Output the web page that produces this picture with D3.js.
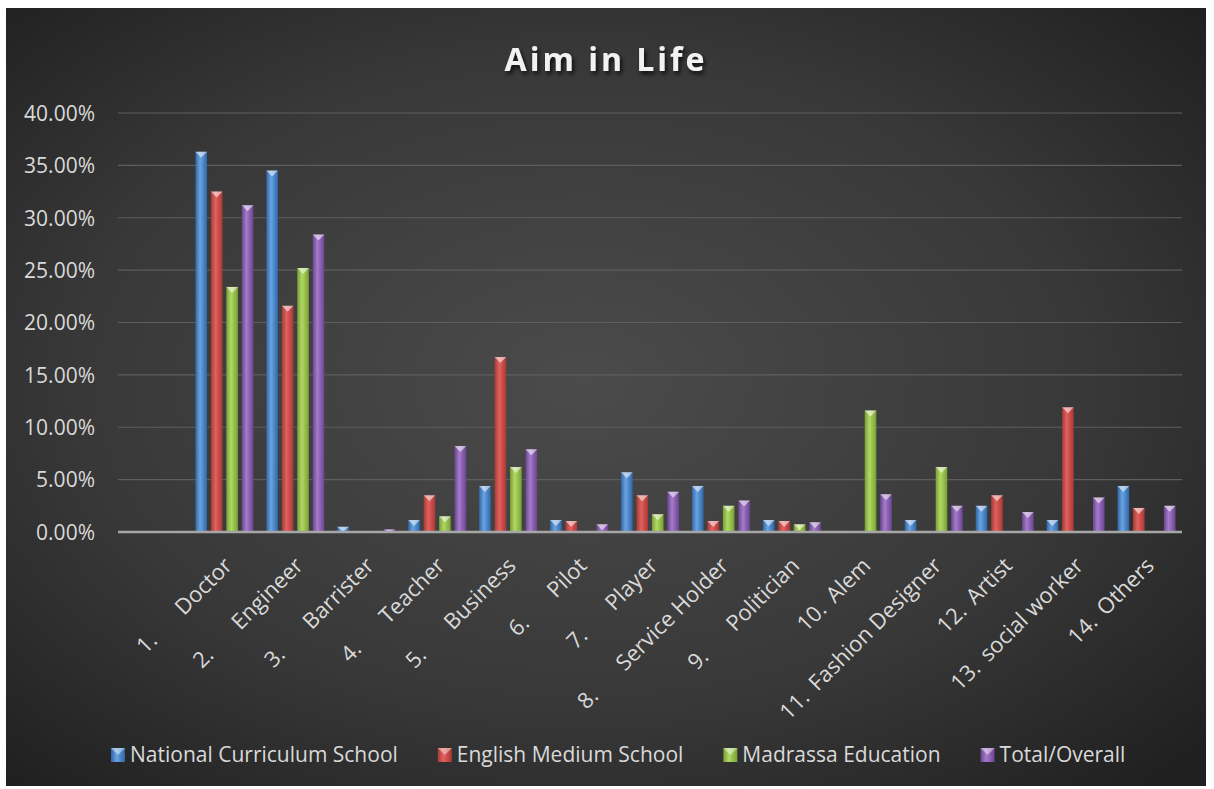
<!DOCTYPE html>
<html>
<head>
<meta charset="utf-8">
<script src="https://cdn.jsdelivr.net/npm/d3@7/dist/d3.min.js"></script>
<style>
  html, body { margin: 0; padding: 0; background: #ffffff; }
  svg { display: block; }
</style>
</head>
<body>
<svg id="chart" width="1214" height="789"></svg>
<script>
const title = "Aim in Life";
const categories = [
  "1.\tDoctor", "2.\tEngineer", "3.\tBarrister", "4.\tTeacher", "5.\tBusiness",
  "6.\tPilot", "7.\tPlayer", "8.\tService Holder", "9.\tPolitician", "10.\tAlem",
  "11.\tFashion Designer", "12.\tArtist", "13.\tsocial worker", "14.\tOthers"
];
const seriesNames = ["National Curriculum School", "English Medium School", "Madrassa Education", "Total/Overall"];
const nationalCurriculum = [36.3, 34.5, 0.5, 1.15, 4.4, 1.15, 5.7, 4.4, 1.15, 0, 1.15, 2.5, 1.15, 4.4];
const englishMedium      = [32.5, 21.6, 0, 3.5, 16.7, 1.05, 3.5, 1.05, 1.05, 0, 0, 3.5, 11.9, 2.3];
const madrassa           = [23.4, 25.2, 0, 1.5, 6.2, 0, 1.7, 2.5, 0.73, 11.6, 6.2, 0, 0, 0];
const totalOverall       = [31.2, 28.4, 0.25, 8.2, 7.9, 0.73, 3.85, 3.0, 0.93, 3.6, 2.5, 1.9, 3.3, 2.5];
const yTicks = [0, 0.05, 0.10, 0.15, 0.20, 0.25, 0.30, 0.35, 0.40];
const seriesColors = [
  { dark: "#3266a6", mid: "#4a86c8", light: "#6aa3e0" },
  { dark: "#a63a37", mid: "#c94a47", light: "#e0625f" },
  { dark: "#7a9e36", mid: "#94bf4a", light: "#b0d865" },
  { dark: "#6a4690", mid: "#8a5db0", light: "#a47cc8" }
];

const seriesValues = [nationalCurriculum, englishMedium, madrassa, totalOverall];

const svg = d3.select("#chart");
const chart = { x: 6, y: 8, w: 1200, h: 778 };
const plot = { left: 118, right: 1182, top: 113, bottom: 532 };
const FONT = "'Open Sans', sans-serif";

const defs = svg.append("defs");
const bg = defs.append("radialGradient").attr("id", "bgGrad")
  .attr("cx", "48%").attr("cy", "48%").attr("r", "70%");
bg.append("stop").attr("offset", "0%").attr("stop-color", "#4b4b4b");
bg.append("stop").attr("offset", "60%").attr("stop-color", "#383838");
bg.append("stop").attr("offset", "100%").attr("stop-color", "#202020");

seriesColors.forEach((c, i) => {
  const g = defs.append("linearGradient").attr("id", "barGrad" + i)
    .attr("x1", "0%").attr("x2", "100%").attr("y1", "0%").attr("y2", "0%");
  g.append("stop").attr("offset", "0%").attr("stop-color", c.dark);
  g.append("stop").attr("offset", "40%").attr("stop-color", c.light);
  g.append("stop").attr("offset", "70%").attr("stop-color", c.mid);
  g.append("stop").attr("offset", "100%").attr("stop-color", c.dark);
});

const shadow = defs.append("filter").attr("id", "titleShadow")
  .attr("x", "-20%").attr("y", "-40%").attr("width", "140%").attr("height", "180%");
shadow.append("feDropShadow").attr("dx", 2).attr("dy", 3).attr("stdDeviation", 2)
  .attr("flood-color", "#000").attr("flood-opacity", 0.75);

svg.append("rect").attr("x", chart.x).attr("y", chart.y)
  .attr("width", chart.w).attr("height", chart.h).attr("fill", "url(#bgGrad)");

// Title
svg.append("text")
  .attr("x", chart.x + chart.w / 2).attr("y", 71)
  .attr("text-anchor", "middle")
  .attr("font-family", FONT)
  .attr("font-weight", "bold").attr("font-size", 32)
  .attr("letter-spacing", 3)
  .attr("fill", "#f2f2f2")
  .attr("filter", "url(#titleShadow)")
  .text(title);

const y = d3.scaleLinear().domain([0, 0.40]).range([plot.bottom, plot.top]);
const step = (plot.right - plot.left) / (categories.length + 1);
const x = d3.scaleBand().domain(categories)
  .range([plot.left + step, plot.right]).paddingInner(0.183).paddingOuter(0.0915);
const xs = d3.scaleBand().domain(d3.range(seriesNames.length))
  .range([0, x.bandwidth()]).paddingInner(0.25);

// gridlines
svg.append("g").selectAll("line").data(yTicks.slice(1)).join("line")
  .attr("x1", plot.left).attr("x2", plot.right)
  .attr("y1", d => y(d)).attr("y2", d => y(d))
  .attr("stroke", "#5e5e5e").attr("stroke-width", 1.2);

// y axis labels
const yAxis = d3.axisLeft(y).tickValues(yTicks).tickFormat(d3.format(".2%")).tickSize(0).tickPadding(0);
const yg = svg.append("g").attr("transform", `translate(95,0)`).call(yAxis);
yg.select(".domain").remove();
yg.selectAll("text")
  .attr("font-family", FONT).attr("font-size", 21)
  .attr("fill", "#d9d9d9").attr("dy", "0.35em");

// bars
const barG = svg.append("g");
categories.forEach((cat, ci) => {
  seriesValues.forEach((vals, si) => {
    const v = vals[ci] / 100;
    if (v <= 0) return;
    const bx = x(cat) + xs(si);
    const bw = xs.bandwidth();
    const by = y(v);
    const bh = plot.bottom - by;
    barG.append("rect").attr("x", bx).attr("y", by).attr("width", bw).attr("height", bh)
      .attr("fill", `url(#barGrad${si})`);
    const capH = Math.min(6, bh);
    barG.append("path")
      .attr("d", `M${bx},${by} L${bx + bw},${by} L${bx + bw / 2},${by + capH} Z`)
      .attr("fill", "#ffffff").attr("fill-opacity", 0.55);
  });
});

// x axis line
svg.append("line").attr("x1", plot.left).attr("x2", plot.right)
  .attr("y1", plot.bottom).attr("y2", plot.bottom)
  .attr("stroke", "#a6a6a6").attr("stroke-width", 2.5);

// category labels
categories.forEach(cat => {
  const [num, name] = cat.split("\t");
  const gap = num.length <= 2 ? 36 : 10;
  const cx = x(cat) + x.bandwidth() / 2;
  const g = svg.append("g").attr("transform", `translate(${cx + 9},${567}) rotate(-45)`);
  const t = g.append("text").attr("x", 0).attr("y", 0).attr("text-anchor", "end")
    .attr("font-family", FONT).attr("font-size", 22)
    .attr("fill", "#d9d9d9").text(name);
  const len = t.node().getComputedTextLength();
  g.append("text").attr("x", -(len + gap)).attr("y", 0).attr("text-anchor", "end")
    .attr("font-family", FONT).attr("font-size", 22)
    .attr("fill", "#d9d9d9").text(num);
});

// legend
let lx = 111;
const ly = 755;
seriesNames.forEach((name, i) => {
  svg.append("rect").attr("x", lx).attr("y", ly - 7).attr("width", 14).attr("height", 14)
    .attr("fill", `url(#barGrad${i})`);
  svg.append("path").attr("d", `M${lx},${ly - 7} L${lx + 14},${ly - 7} L${lx + 7},${ly} Z`)
    .attr("fill", "#fff").attr("fill-opacity", 0.45);
  const t = svg.append("text").attr("x", lx + 19).attr("y", ly).attr("dy", "0.35em")
    .attr("font-family", FONT).attr("font-size", 21)
    .attr("fill", "#d9d9d9").text(name);
  lx = lx + 19 + t.node().getComputedTextLength() + 40;
});
</script>
</body>
</html>
